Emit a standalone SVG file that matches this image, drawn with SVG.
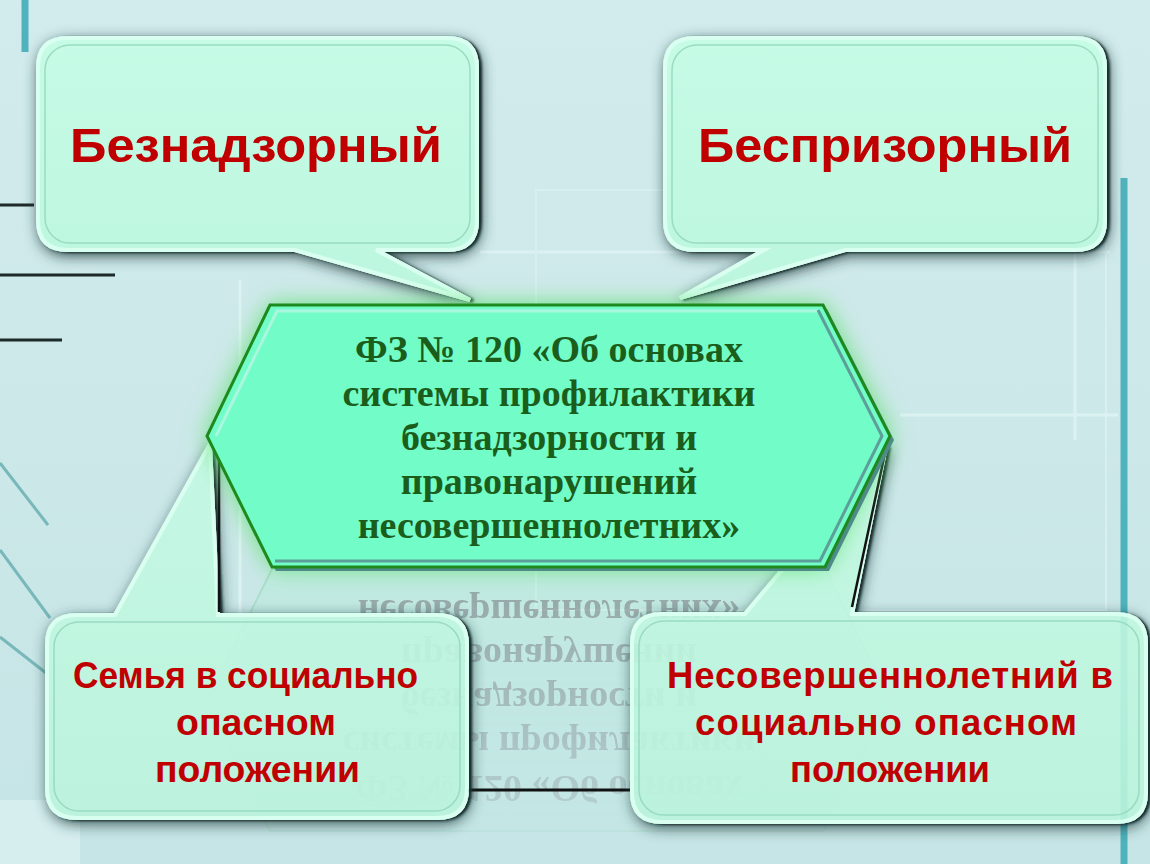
<svg xmlns="http://www.w3.org/2000/svg" width="1150" height="864" viewBox="0 0 1150 864">
<defs>
<style>
.red{font-family:"Liberation Sans",Arial,sans-serif;font-weight:bold;fill:#c00000;text-anchor:middle}
.big{font-size:49px}
.mid{font-size:36.5px}
.law{font-family:"Liberation Serif","Times New Roman",serif;font-weight:bold;font-size:38px;fill:#1b5e1b;text-anchor:middle}
.bub{fill:url(#bubG);stroke:#d8fff0;stroke-width:4;filter:url(#shadow)}
.inner{fill:none;stroke:#96d8bc;stroke-width:1.5;opacity:0.9}
.dark{stroke:#1c2a2a;stroke-width:3;fill:none}
.diag{stroke:#78b8ba;stroke-width:3;fill:none}
.faint{stroke:#dcf2f2;stroke-width:3;fill:none}
</style>
<linearGradient id="bgG" x1="0" y1="0" x2="0" y2="1">
<stop offset="0" stop-color="#d2ebec"/>
<stop offset="1" stop-color="#c6e5e6"/>
</linearGradient>
<linearGradient id="bubG" x1="0" y1="0" x2="0" y2="1">
<stop offset="0" stop-color="#c6fbe6"/>
<stop offset="1" stop-color="#bcf6de"/>
</linearGradient>
<linearGradient id="refG" x1="0" y1="0" x2="0" y2="1">
<stop offset="0" stop-color="#fff" stop-opacity="0.9"/>
<stop offset="1" stop-color="#fff" stop-opacity="0.2"/>
</linearGradient>
<mask id="refM" maskUnits="userSpaceOnUse" x="0" y="560" width="1150" height="300">
<rect x="0" y="560" width="1150" height="300" fill="url(#refG)"/>
</mask>
<filter id="shadow" x="-20%" y="-20%" width="140%" height="150%">
<feGaussianBlur in="SourceAlpha" stdDeviation="7" result="b1"/>
<feOffset in="b1" dx="2" dy="4" result="o1"/>
<feFlood flood-color="#1e3636" flood-opacity="0.85"/>
<feComposite in2="o1" operator="in" result="s1"/>
<feGaussianBlur in="SourceAlpha" stdDeviation="0.8" result="b2"/>
<feOffset in="b2" dx="3" dy="1" result="o2"/>
<feFlood flood-color="#1a2e2e"/>
<feComposite in2="o2" operator="in" result="s2"/>
<feMerge result="sh"><feMergeNode in="s1"/><feMergeNode in="s2"/></feMerge>
<feComposite in="sh" in2="SourceAlpha" operator="out" result="shOut"/>
<feMerge><feMergeNode in="shOut"/><feMergeNode in="SourceGraphic"/></feMerge>
</filter>
<filter id="glow" x="-20%" y="-30%" width="140%" height="160%">
<feGaussianBlur stdDeviation="12"/>
</filter>
</defs>

<rect x="0" y="0" width="1150" height="864" fill="url(#bgG)"/>
<g id="background">
<line class="faint" x1="240" y1="280" x2="240" y2="640"/>
<line class="faint" x1="480" y1="252" x2="1110" y2="252"/>
<rect x="536" y="190" width="570" height="420" fill="none" stroke="#d8eff0" stroke-width="2"/>
<line class="faint" x1="1075" y1="180" x2="1075" y2="440"/>
<line class="faint" x1="900" y1="415" x2="1118" y2="415"/>
<rect x="0" y="800" width="80" height="64" fill="#d6eeee"/>
<line x1="25" y1="0" x2="25" y2="52" stroke="#4fb3bd" stroke-width="7"/>
<line x1="1124" y1="178" x2="1124" y2="864" stroke="#4fb3bd" stroke-width="7"/>
<line class="dark" x1="0" y1="205" x2="34" y2="205"/>
<line class="dark" x1="0" y1="275" x2="115" y2="275"/>
<line class="dark" x1="0" y1="340" x2="62" y2="340"/>
<line class="diag" x1="0" y1="463" x2="48" y2="525"/>
<line class="diag" x1="0" y1="550" x2="50" y2="618"/>
<line class="diag" x1="0" y1="637" x2="46" y2="673"/>
</g>

<g id="reflection" mask="url(#refM)" opacity="0.65">
<polygon points="270,831 823,831 890,700 825,569 272,569 207,700" fill="#a8f0d0" fill-opacity="0.5" stroke="#8fd6b0" stroke-width="2"/>
<g transform="matrix(1,0,0,-1,0,1138)">
<text class="law" x="549" y="362" style="fill:#6a7474">ФЗ № 120 «Об основах</text>
<text class="law" x="549" y="406" style="fill:#6a7474">системы профилактики</text>
<text class="law" x="549" y="450" style="fill:#6a7474">безнадзорности  и</text>
<text class="law" x="549" y="494" style="fill:#6a7474">правонарушений</text>
<text class="law" x="549" y="538" style="fill:#6a7474">несовершеннолетних»</text>
</g>
</g>

<g id="connectors">
<line x1="467" y1="790" x2="634" y2="790" stroke="#111" stroke-width="3"/>
</g>

<g id="node-bottom-left">
<path class="bub" fill-opacity="0.88" d="M77,615 H115 L210,444 L218,615 H437 Q467,615 467,645 V788 Q467,818 437,818 H77 Q47,818 47,788 V645 Q47,615 77,615 Z"/>
<rect class="inner" x="54" y="622" width="406" height="189" rx="25"/>
<line x1="219" y1="455" x2="219" y2="612" stroke="#111" stroke-width="2.5"/>
<text class="red mid" x="245.5" y="688" textLength="345" lengthAdjust="spacingAndGlyphs">Семья в социально</text>
<text class="red mid" x="256" y="735" textLength="160" lengthAdjust="spacingAndGlyphs">опасном</text>
<text class="red mid" x="257.5" y="782" textLength="205" lengthAdjust="spacingAndGlyphs">положении</text>
</g>

<g id="node-bottom-right">
<path class="bub" fill-opacity="0.88" d="M662,614 H745 L886,446 L852,614 H1116 Q1146,614 1146,644 V792 Q1146,822 1116,822 H662 Q632,822 632,792 V644 Q632,614 662,614 Z"/>
<rect class="inner" x="639" y="621" width="500" height="194" rx="25"/>
<line x1="885" y1="453" x2="852" y2="607" stroke="#111" stroke-width="2.5"/>
<text class="red mid" x="890" y="688" textLength="446" lengthAdjust="spacing">Несовершеннолетний в</text>
<text class="red mid" x="886" y="735" textLength="382" lengthAdjust="spacing">социально опасном</text>
<text class="red mid" x="890" y="782" textLength="200" lengthAdjust="spacingAndGlyphs">положении</text>
</g>

<g id="node-top-left">
<path class="bub" d="M68,38 H447 Q477,38 477,68 V220 Q477,250 447,250 H376 L470,300 L295,250 H68 Q38,250 38,220 V68 Q38,38 68,38 Z"/>
<rect class="inner" x="45" y="45" width="425" height="198" rx="25"/>
<text class="red big" x="256" y="162" textLength="372" lengthAdjust="spacingAndGlyphs">Безнадзорный</text>
</g>

<g id="node-top-right">
<path class="bub" d="M695,38 H1075 Q1105,38 1105,68 V220 Q1105,250 1075,250 H845 L680,298 L764,250 H695 Q665,250 665,220 V68 Q665,38 695,38 Z"/>
<rect class="inner" x="672" y="45" width="426" height="198" rx="25"/>
<text class="red big" x="885" y="162" textLength="374" lengthAdjust="spacingAndGlyphs">Беспризорный</text>
</g>

<g id="node-center">
<polygon points="270,305 823,305 890,436 825,567 272,567 207,436" fill="#5fe070" filter="url(#glow)"/>
<polygon points="274,309 827,309 894,440 829,571 276,571 211,440" fill="#4f8a8a"/>
<polygon points="270,305 823,305 890,436 825,567 272,567 207,436" fill="#72fcc8" stroke="#1e8a1e" stroke-width="3"/>
<polyline points="216,436 277,311 820,311" fill="none" stroke="#a9f7de" stroke-width="3"/>
<polyline points="818,310 882,436 820,561 275,561" fill="none" stroke="#5e9e9a" stroke-width="3"/>
<text class="law" x="549" y="362">ФЗ № 120 «Об основах</text>
<text class="law" x="549" y="406">системы профилактики</text>
<text class="law" x="549" y="450">безнадзорности  и</text>
<text class="law" x="549" y="494">правонарушений</text>
<text class="law" x="549" y="538">несовершеннолетних»</text>
</g>
</svg>
